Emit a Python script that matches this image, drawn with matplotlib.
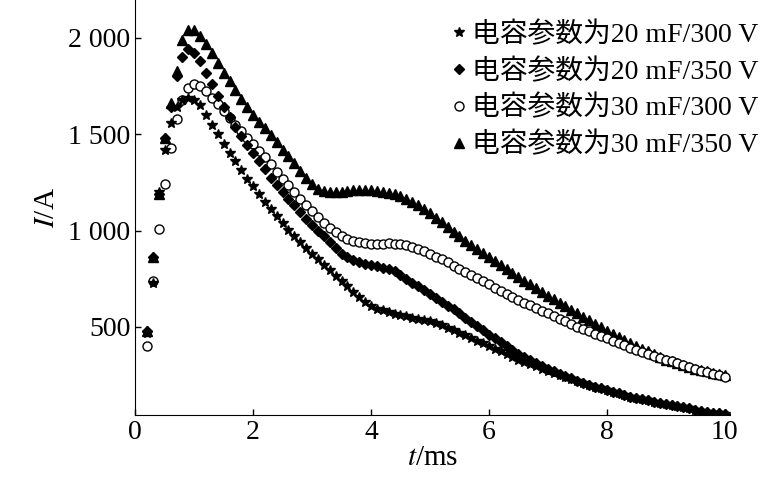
import numpy as np
import matplotlib
matplotlib.use("Agg")
import matplotlib.pyplot as plt
from matplotlib.ticker import FuncFormatter
from matplotlib import font_manager as fm

cjk = None
for f in fm.findSystemFonts():
    if 'CJK' in f and ('SC' in f or 'ttc' in f.lower()):
        cjk = f
        break
if cjk:
    fm.fontManager.addfont(cjk)
    cjk_name = fm.FontProperties(fname=cjk).get_name()
else:
    cjk_name = 'Noto Sans CJK SC'
plt.rcParams['font.family'] = ['Liberation Serif', cjk_name]
plt.rcParams['mathtext.fontset'] = 'stix'

t = np.round(np.arange(0.2, 10.01, 0.1), 1)
labels = ["电容参数为20 mF/300 V", "电容参数为20 mF/350 V", "电容参数为30 mF/300 V", "电容参数为30 mF/350 V"]
s_20_300 = [470,730,1200,1420,1560,1640,1680,1690,1680,1650,
    1600,1550,1500,1450,1405,1360,1315,1270,1230,
    1190,1150,1110,1075,1040,1005,970,940,910,880,
    850,820,795,765,740,710,680,655,630,610,
    595,585,575,565,560,555,548,542,536,530,
    520,508,495,482,470,456,442,428,414,400,
    386,372,358,344,330,318,306,294,282,270,
    260,250,240,230,220,210,200,190,180,170,
    162,154,146,138,130,124,118,112,106,100,
    94,88,82,76,70,65,60,55,50,45]
s_20_350 = [480,860,1190,1480,1640,1800,1900,1940,1920,1880,
    1820,1760,1700,1640,1590,1540,1490,1445,1400,
    1360,1320,1275,1235,1200,1165,1130,1095,1060,1030,
    1000,970,940,910,880,860,845,835,825,820,
    815,808,800,790,770,750,730,710,690,670,
    650,630,610,590,570,548,526,504,482,460,
    440,420,400,380,360,344,328,312,296,280,
    268,256,244,232,220,210,200,190,180,170,
    162,154,146,138,130,124,118,112,106,100,
    94,88,82,76,70,65,60,55,50,45]
s_30_300 = [400,740,1010,1240,1430,1580,1680,1740,1760,1750,
    1725,1690,1655,1620,1585,1550,1515,1482,1450,
    1415,1380,1345,1305,1270,1235,1200,1165,1130,1100,
    1070,1040,1015,990,970,955,945,938,933,930,
    930,932,933,932,930,925,915,905,895,880,
    865,850,835,818,800,785,768,752,736,720,
    704,688,672,656,640,626,612,598,584,570,
    556,542,528,514,500,488,476,464,452,440,
    428,416,404,392,380,370,360,350,340,330,
    320,310,300,290,280,272,264,256,248,240]
s_30_350 = [480,860,1190,1480,1660,1830,1990,2040,2040,2010,
    1970,1920,1870,1820,1775,1730,1685,1640,1600,
    1565,1530,1495,1460,1420,1385,1350,1310,1275,1240,
    1215,1205,1200,1200,1200,1205,1210,1210,1210,1210,
    1205,1200,1195,1188,1180,1165,1150,1130,1110,1090,
    1066,1042,1018,994,970,948,926,904,882,860,
    840,820,800,780,760,740,720,700,680,660,
    642,624,606,588,570,552,534,516,498,480,
    464,448,432,416,400,386,372,358,344,330,
    320,310,300,290,280,274,268,262,256,250]
xticks = [0, 2, 4, 6, 8, 10]
yticks = [500, 1000, 1500, 2000]

fig = plt.figure(figsize=(7.73, 5.01), dpi=100)
ax = fig.add_axes([0.175, 0.172, 0.77, 0.828])
ax.plot(t, s_30_350, ls='none', marker='^', ms=7, color='black', label=labels[3])
ax.plot(t, s_30_300, ls='none', marker='o', ms=6.5, mfc='white', mec='black', mew=1, color='black', label=labels[2])
ax.plot(t, s_20_350, ls='none', marker='D', ms=5.5, color='black', label=labels[1])
ax.plot(t, s_20_300, ls='none', marker='*', ms=7, color='black', label=labels[0])
ax.set_xlim(0, 10.1)
ax.set_ylim(43, 2197)
ax.set_xticks(xticks)
ax.set_yticks(yticks)
ax.yaxis.set_major_formatter(FuncFormatter(lambda v, p: f"{int(v):,}".replace(",", " ")))
ax.tick_params(direction='in', labelsize=20, length=4, width=1)
for s in ['top', 'right']:
    ax.spines[s].set_visible(False)
ax.set_xlabel(r"$t$/ms", fontsize=21, labelpad=0)
ax.set_ylabel(r"$I$/A", fontsize=21, labelpad=6)
h, l = ax.get_legend_handles_labels()
ax.legend(h[::-1], l[::-1], loc='upper right', bbox_to_anchor=(1.065, 0.975), frameon=False,
          fontsize=20, handletextpad=0.05, handlelength=0.8, labelspacing=0.38, borderaxespad=0)
fig.savefig("out.png", dpi=100)
